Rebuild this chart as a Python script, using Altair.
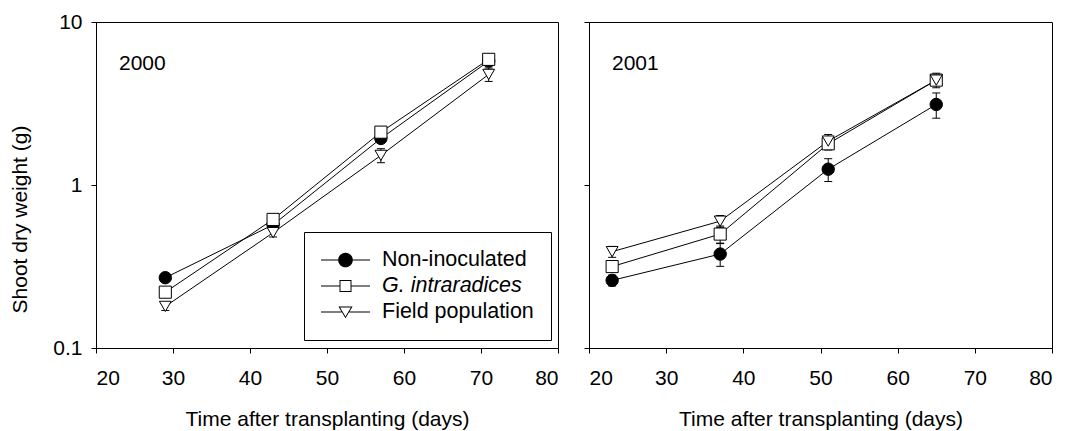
import altair as alt
import pandas as pd

SERIES = ["Non-inoculated", "G. intraradices", "Field population"]

# 2000 season
DAYS_2000 = [29, 43, 57, 71]
NON_2000 = [0.27, 0.57, 1.93, 5.75]
GI_2000 = [0.22, 0.615, 2.11, 5.9]
FP_2000 = [0.18, 0.51, 1.52, 4.77]
NON_2000_ERR = [0.01, 0.03, 0.10, 0.30]
GI_2000_ERR = [0.01, 0.03, 0.10, 0.20]
FP_2000_ERR = [0.01, 0.03, 0.15, 0.45]

# 2001 season
DAYS_2001 = [23, 37, 51, 65]
NON_2001 = [0.26, 0.377, 1.25, 3.12]
GI_2001 = [0.316, 0.50, 1.79, 4.40]
FP_2001 = [0.39, 0.60, 1.86, 4.40]
NON_2001_ERR = [0.02, 0.06, 0.20, 0.55]
GI_2001_ERR = [0.02, 0.06, 0.15, 0.30]
FP_2001_ERR = [0.03, 0.05, 0.18, 0.45]

X_TICKS = [20, 30, 40, 50, 60, 70, 80]
Y_TICKS = [0.1, 1, 10]
FONT = "Liberation Sans"
FS = 21


def frame(days, vals, errs):
    rows = []
    for name, v, e in zip(SERIES, vals, errs):
        for d, y, err in zip(days, v, e):
            rows.append({"day": d, "w": y, "lo": y - err, "hi": y + err, "series": name})
    return pd.DataFrame(rows)


df2000 = frame(DAYS_2000, [NON_2000, GI_2000, FP_2000], [NON_2000_ERR, GI_2000_ERR, FP_2000_ERR])
df2001 = frame(DAYS_2001, [NON_2001, GI_2001, FP_2001], [NON_2001_ERR, GI_2001_ERR, FP_2001_ERR])

shape_scale = alt.Scale(domain=SERIES, range=["circle", "square", "triangle-down"])
fill_scale = alt.Scale(domain=SERIES, range=["black", "white", "white"])
size_scale = alt.Scale(domain=SERIES, range=[154, 140, 185])

# legend glyphs: line + marker, drawn as filled outlines (holes for open markers)
LEG_PATHS = [
    "M-1,-0.02H-0.3V0.02H-1Z M0.3,-0.02H1V0.02H0.3Z "
    "M-0.3,0A0.3,0.3,0,1,1,0.3,0A0.3,0.3,0,1,1,-0.3,0Z",
    "M-1,-0.02H-0.245V0.02H-1Z M0.245,-0.02H1V0.02H0.245Z "
    "M-0.245,-0.245H0.245V0.245H-0.245Z M-0.205,-0.205V0.205H0.205V-0.205Z",
    "M-1,-0.02H-0.16V0.02H-1Z M0.16,-0.02H1V0.02H0.16Z "
    "M-0.29,-0.22L0.29,-0.22L0,0.26Z M-0.219,-0.18L0,0.183L0.219,-0.18Z",
]


def panel(df, year, width, first):
    xs = alt.X(
        "day:Q",
        scale=alt.Scale(domain=[20, 80], nice=False, zero=False),
        axis=alt.Axis(values=X_TICKS, title="Time after transplanting (days)",
                      format="d", labelPadding=14, titlePadding=20),
    )
    if first:
        yaxis = alt.Axis(values=Y_TICKS, format="~g", title="Shoot dry weight (g)",
                         labelPadding=9, titleX=-76, titleY=197,
                         titleBaseline="middle", titleAngle=-90)
    else:
        yaxis = alt.Axis(values=Y_TICKS, labels=False, title=None)
    ys = alt.Y("w:Q", scale=alt.Scale(type="log", domain=[0.1, 10], nice=False), axis=yaxis)

    base = alt.Chart(df)
    lines = base.mark_line(color="black", strokeWidth=1).encode(x=xs, y=ys, detail="series:N")
    err = base.mark_rule(color="black", strokeWidth=1).encode(
        x=alt.X("day:Q"), y=alt.Y("lo:Q"), y2="hi:Q")
    cap_lo = base.mark_tick(orient="horizontal", size=8, thickness=1, color="black", opacity=1).encode(
        x=alt.X("day:Q"), y=alt.Y("lo:Q"))
    cap_hi = base.mark_tick(orient="horizontal", size=8, thickness=1, color="black", opacity=1).encode(
        x=alt.X("day:Q"), y=alt.Y("hi:Q"))
    pts = base.mark_point(stroke="black", strokeWidth=1, opacity=1, fillOpacity=1).encode(
        x=alt.X("day:Q"), y=alt.Y("w:Q"),
        shape=alt.Shape("series:N", scale=shape_scale, legend=None),
        fill=alt.Fill("series:N", scale=fill_scale, legend=None),
        size=alt.Size("series:N", scale=size_scale, legend=None),
    )
    label = alt.Chart(pd.DataFrame({"t": [year]})).mark_text(
        align="left", baseline="middle", fontSize=FS, font=FONT, color="black"
    ).encode(text="t:N", x=alt.value(23), y=alt.value(42))

    layers = [lines, err, cap_lo, cap_hi, pts, label]
    if first:
        leg = base.transform_filter("datum.day < 0").mark_point(
            filled=True, color="black", fill="black", strokeWidth=0, opacity=1, size=2401
        ).encode(
            x=alt.X("day:Q"), y=alt.Y("w:Q"),
            shape=alt.Shape("series:N", scale=alt.Scale(domain=SERIES, range=LEG_PATHS),
                            legend=alt.Legend(
                                title=None,
                                orient="none", legendX=208, legendY=210,
                                strokeColor="black", padding=17, symbolSize=2401,
                                symbolStrokeWidth=0, symbolFillColor="black",
                                labelFontSize=21.5, labelFont=FONT, labelColor="black",
                                labelOffset=12, clipHeight=22, rowPadding=4,
                                labelLimit=300,
                                labelFontStyle={"expr": "datum.label == 'G. intraradices' ? 'italic' : 'normal'"},
                            )),
        )
        layers.append(leg)
    ch = alt.layer(*layers).properties(width=width, height=326)
    if first:
        ch = ch.resolve_scale(shape="independent", fill="independent", size="independent")
    return ch


left = panel(df2000, "2000", 462, True)
right = panel(df2001, "2001", 463, False)

chart = alt.hconcat(left, right, spacing=31, bounds="flush").resolve_scale(
    shape="independent", fill="independent", size="independent"
).properties(
    padding={"left": 0, "top": 2, "right": 0, "bottom": 0}
).configure(
    font=FONT
).configure_view(
    stroke="black", strokeWidth=1
).configure_axis(
    grid=False, domainColor="black", tickColor="black", tickSize=5,
    labelFont=FONT, titleFont=FONT, labelFontSize=FS, titleFontSize=FS,
    labelColor="black", titleColor="black", titleFontWeight="normal",
    domainWidth=1, tickWidth=1,
)

chart.save("out.html", embed_options={"renderer": "svg", "actions": False})
